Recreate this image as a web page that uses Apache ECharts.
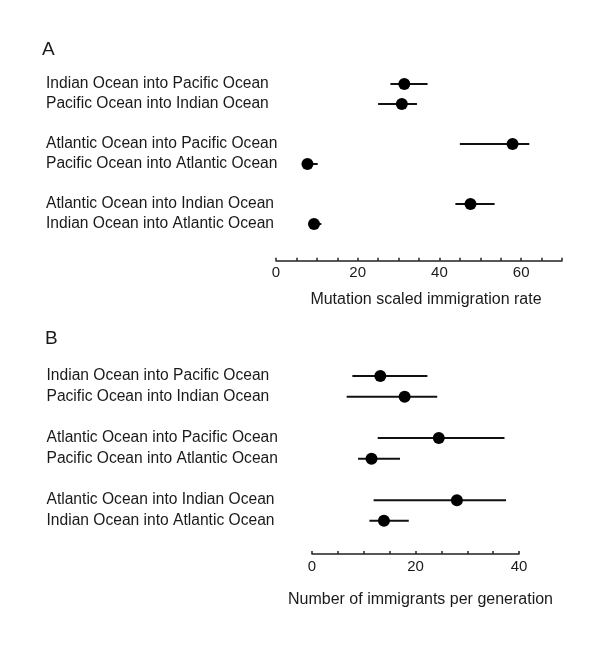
<!DOCTYPE html>
<html>
<head>
<meta charset="utf-8">
<script src="https://cdn.jsdelivr.net/npm/echarts@6/dist/echarts.min.js"></script>
<style>
  html, body { margin: 0; padding: 0; background: #fff; }
  #main { width: 600px; height: 664px; }
</style>
</head>
<body>
<div id="main"></div>
<script>
const routes = [
  'Indian Ocean into Pacific Ocean',
  'Pacific Ocean into Indian Ocean',
  'Atlantic Ocean into Pacific Ocean',
  'Pacific Ocean into Atlantic Ocean',
  'Atlantic Ocean into Indian Ocean',
  'Indian Ocean into Atlantic Ocean'
];

// panel A: mutation scaled immigration rate
const rateMean = [31.4, 30.8, 57.9, 7.7, 47.6, 9.3];
const rateLow  = [28.0, 25.0, 45.0, 7.0, 43.9, 8.5];
const rateHigh = [37.1, 34.5, 62.0, 10.2, 53.5, 11.1];

// panel B: number of immigrants per generation
const immMean = [13.2, 17.9, 24.5, 11.5, 28.0, 13.9];
const immLow  = [7.8, 6.7, 12.7, 8.9, 11.9, 11.1];
const immHigh = [22.3, 24.2, 37.2, 17.0, 37.5, 18.7];

const textColor = '#1a1a1a';
const font = 'Liberation Sans, Arial, sans-serif';

// blank slots between the pairs
const slots = [routes[0], routes[1], '', routes[2], routes[3], ' ', routes[4], routes[5]];

const myChart = echarts.init(document.getElementById('main'));

const errSeries = (idx, low, high) => ({
  type: 'custom',
  xAxisIndex: idx,
  yAxisIndex: idx,
  data: routes.map((r, i) => [low[i], high[i], r]),
  encode: { x: [0, 1], y: 2 },
  renderItem: (params, api) => {
    const a = api.coord([api.value(0), api.value(2)]);
    const b = api.coord([api.value(1), api.value(2)]);
    return {
      type: 'line',
      shape: { x1: a[0], y1: a[1], x2: b[0], y2: b[1] },
      style: { stroke: '#111', lineWidth: 2 }
    };
  },
  silent: true,
  z: 2
});

const dotSeries = (idx, mean) => ({
  type: 'scatter',
  xAxisIndex: idx,
  yAxisIndex: idx,
  data: routes.map((r, i) => [mean[i], r]),
  symbolSize: 12,
  itemStyle: { color: '#000', opacity: 1 },
  z: 3
});

const xAxisBase = (idx, max, offset, name, nameGap, namePad) => ({
  type: 'value',
  gridIndex: idx,
  min: 0,
  max: max,
  interval: 5,
  offset: offset,
  name: name,
  nameLocation: 'middle',
  nameGap: nameGap,
  nameTextStyle: { color: textColor, fontSize: 16, fontFamily: font, padding: [0, 0, 0, namePad] },
  axisLine: { show: true, lineStyle: { color: '#222', width: 1.5 } },
  axisTick: { show: true, inside: true, length: 3, lineStyle: { color: '#222', width: 1.5 } },
  axisLabel: {
    color: textColor, fontSize: 15, fontFamily: font, margin: 5,
    formatter: v => (v % 20 === 0 ? String(v) : '')
  },
  splitLine: { show: false }
});

const yAxisBase = (idx, margin) => ({
  type: 'category',
  gridIndex: idx,
  data: slots,
  inverse: true,
  axisLine: { show: false },
  axisTick: { show: false },
  axisLabel: {
    interval: 0,
    color: textColor, fontSize: 15.6, fontFamily: font,
    align: 'left', margin: margin
  }
});

const option = {
  backgroundColor: '#ffffff',
  animation: false,
  graphic: [
    { type: 'text', left: 42, top: 40, style: { text: 'A', fontSize: 19, fontFamily: font, fill: textColor } },
    { type: 'text', left: 45, top: 329, style: { text: 'B', fontSize: 19, fontFamily: font, fill: textColor } }
  ],
  grid: [
    { left: 276, top: 74, width: 286, height: 160 },
    { left: 312, top: 365.6, width: 207, height: 165.6 }
  ],
  xAxis: [
    xAxisBase(0, 70, 26.7, 'Mutation scaled immigration rate', 31, 14),
    xAxisBase(1, 40, 22.8, 'Number of immigrants per generation', 38, 10)
  ],
  yAxis: [
    yAxisBase(0, 230),
    yAxisBase(1, 265.5)
  ],
  series: [
    errSeries(0, rateLow, rateHigh),
    dotSeries(0, rateMean),
    errSeries(1, immLow, immHigh),
    dotSeries(1, immMean)
  ]
};

myChart.setOption(option);
</script>
</body>
</html>
